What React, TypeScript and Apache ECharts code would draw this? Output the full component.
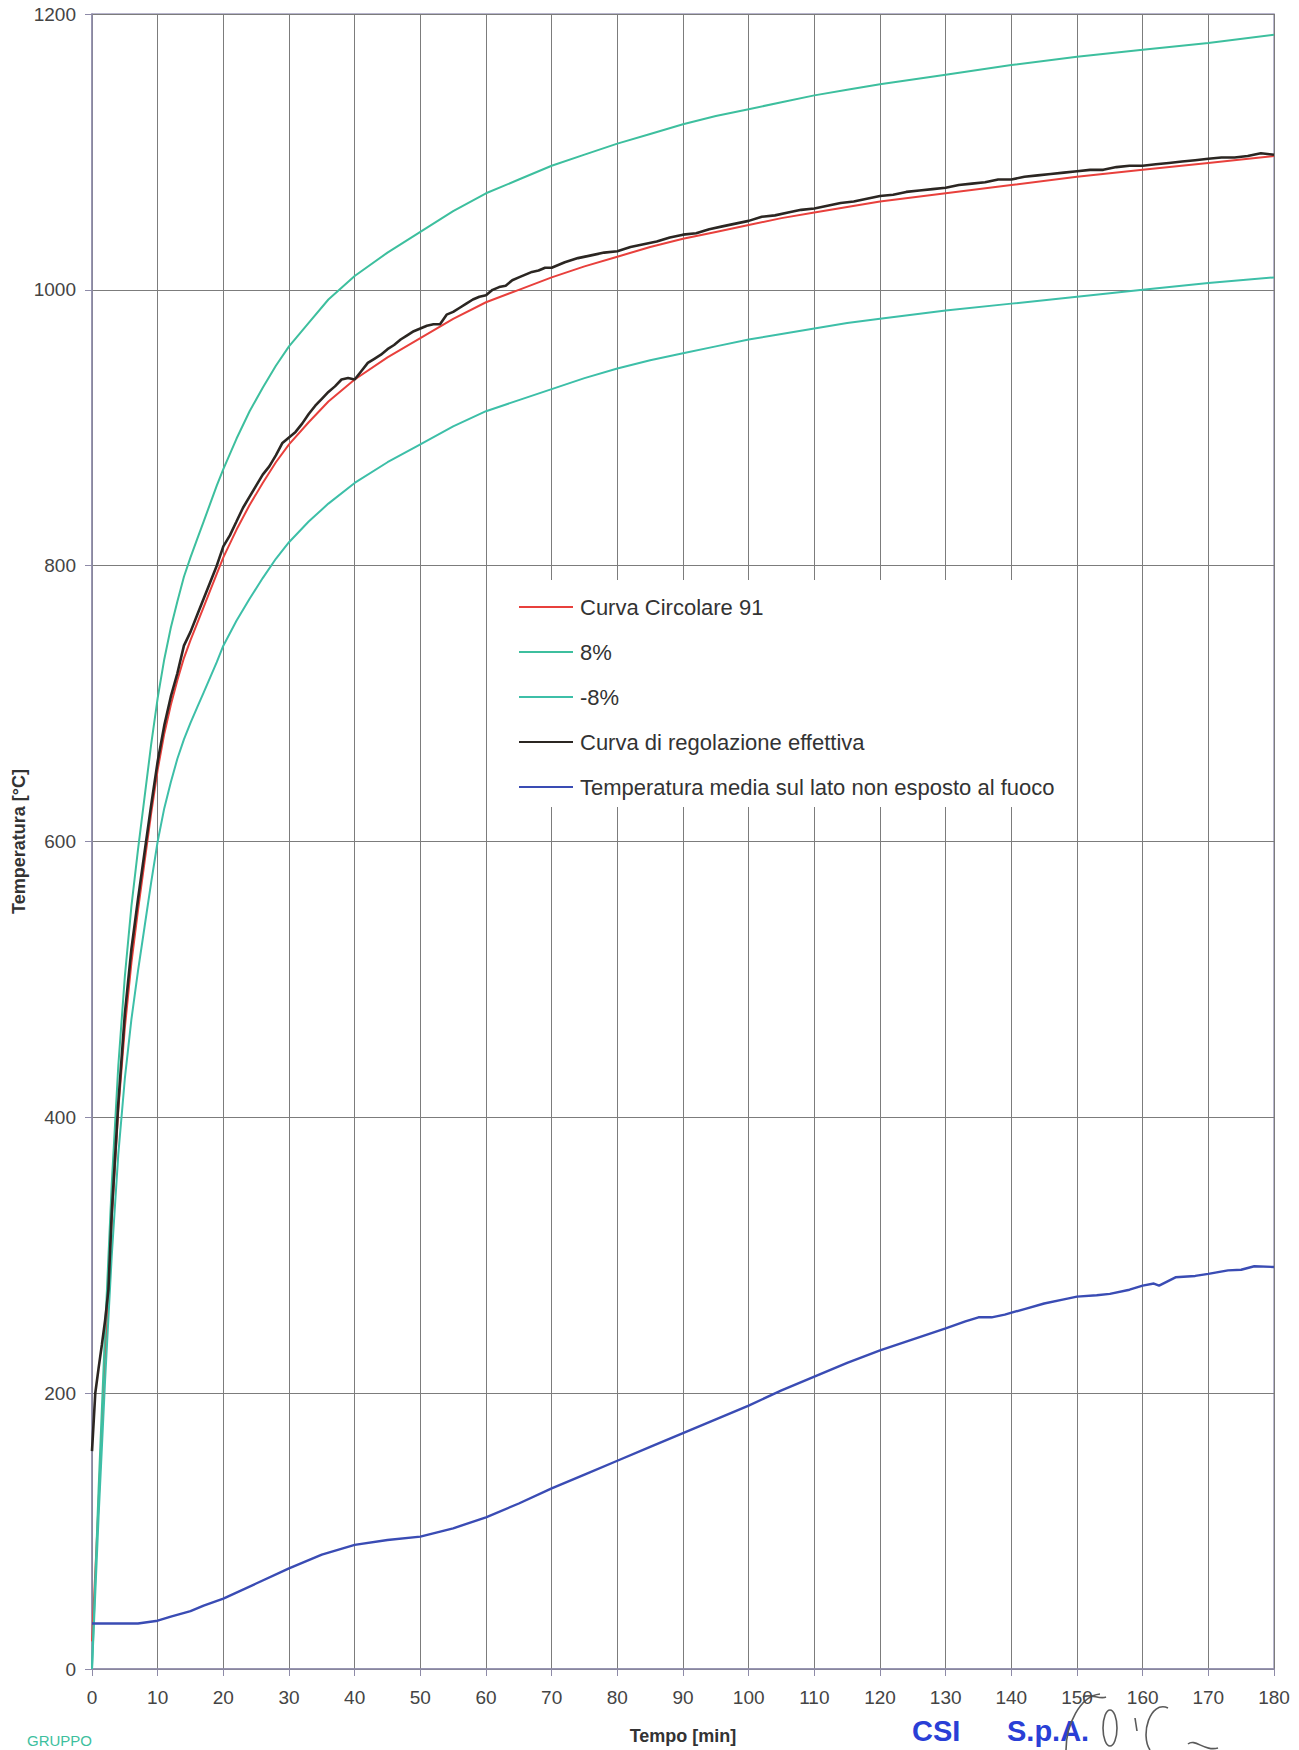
import React, { useEffect, useRef } from "react";
import * as echarts from "echarts";

// ---- data ----
const X_MIN = 0;
const X_MAX = 180;
const X_STEP = 10;
const Y_MIN = 0;
const Y_MAX = 1200;
const Y_STEP = 200;

const seriesNames = [
  "Curva Circolare 91",
  "8%",
  "-8%",
  "Curva di regolazione effettiva",
  "Temperatura media sul lato non esposto al fuoco",
];

// standard curve (red) and the +/-8% limits (teal), same time points
const curveT = [0, 1, 2, 3, 4, 5, 6, 7, 8, 9, 10, 11, 12, 13, 14, 15, 16, 17, 18, 19, 20, 22, 24, 26, 28, 30, 33, 36, 40, 45, 50, 55, 60, 65, 70, 75, 80, 85, 90, 95, 100, 105, 110, 115, 120, 130, 140, 150, 160, 170, 180];
const curveV = [20, 120, 228, 325, 405, 465, 512, 550, 585, 620, 652, 678, 699, 717, 733, 746, 758, 770, 782, 794, 806, 826, 844, 860, 875, 888, 904, 919, 935, 951, 965, 979, 991, 1000, 1009, 1017, 1024, 1031, 1037, 1042, 1047, 1052, 1056, 1060, 1064, 1070, 1076, 1082, 1087, 1092, 1097];
const upperV = [0, 130, 246, 351, 437, 502, 553, 594, 632, 670, 704, 732, 755, 774, 792, 806, 819, 832, 845, 858, 870, 892, 912, 929, 945, 959, 976, 993, 1010, 1027, 1042, 1057, 1070, 1080, 1090, 1098, 1106, 1113, 1120, 1126, 1131, 1136, 1141, 1145, 1149, 1156, 1163, 1169, 1174, 1179, 1185];
const lowerV = [0, 110, 210, 299, 373, 428, 471, 506, 538, 570, 600, 624, 643, 660, 674, 686, 697, 708, 719, 730, 742, 760, 776, 791, 805, 817, 832, 845, 860, 875, 888, 901, 912, 920, 928, 936, 943, 949, 954, 959, 964, 968, 972, 976, 979, 985, 990, 995, 1000, 1005, 1009];

// measured furnace curve (black)
const furnaceT = [0, 0.5, 1, 1.5, 2, 2.5, 3, 4, 5, 6, 7, 8, 9, 10, 11, 12, 13, 14, 15, 16, 17, 18, 19, 20, 21, 22, 23, 24, 25, 26, 27, 28, 29, 30, 31, 32, 33, 34, 35, 36, 37, 38, 39, 40, 41, 42, 43, 44, 45, 46, 47, 48, 49, 50, 51, 52, 53, 54, 55, 56, 57, 58, 59, 60, 61, 62, 63, 64, 65, 66, 67, 68, 69, 70, 72, 74, 76, 78, 80, 82, 84, 86, 88, 90, 92, 94, 96, 98, 100, 102, 104, 106, 108, 110, 112, 114, 116, 118, 120, 122, 124, 126, 128, 130, 132, 134, 136, 138, 140, 142, 144, 146, 148, 150, 152, 154, 156, 158, 160, 162, 164, 166, 168, 170, 172, 174, 176, 178, 180];
const furnaceV = [158, 200, 218, 235, 253, 275, 330, 410, 475, 522, 558, 592, 626, 658, 684, 705, 722, 742, 752, 764, 776, 788, 800, 814, 822, 832, 842, 850, 858, 866, 872, 880, 889, 893, 897, 903, 910, 916, 921, 926, 930, 935, 936, 935, 941, 947, 950, 953, 957, 960, 964, 967, 970, 972, 974, 975, 975, 982, 984, 987, 990, 993, 995, 996, 1000, 1002, 1003, 1007, 1009, 1011, 1013, 1014, 1016, 1016, 1020, 1023, 1025, 1027, 1028, 1031, 1033, 1035, 1038, 1040, 1041, 1044, 1046, 1048, 1050, 1053, 1054, 1056, 1058, 1059, 1061, 1063, 1064, 1066, 1068, 1069, 1071, 1072, 1073, 1074, 1076, 1077, 1078, 1080, 1080, 1082, 1083, 1084, 1085, 1086, 1087, 1087, 1089, 1090, 1090, 1091, 1092, 1093, 1094, 1095, 1096, 1096, 1097, 1099, 1098];

// mean temperature on the unexposed side (blue)
const unexposedT = [0, 5, 7, 10, 12, 15, 17, 20, 25, 30, 35, 40, 45, 50, 55, 60, 65, 70, 75, 80, 85, 90, 95, 100, 105, 110, 115, 120, 125, 130, 133, 135, 137, 139, 142, 145, 148, 150, 153, 155, 158, 160, 161.7, 162.5, 165, 168, 170, 173, 175, 177, 180];
const unexposedV = [33, 33, 33, 35, 38, 42, 46, 51, 62, 73, 83, 90, 93.5, 96, 102, 110, 120, 131, 141, 151, 161, 171, 181, 191, 202, 212, 222, 231, 239, 247, 252, 255, 255, 257, 261, 265, 268, 270, 271, 272, 275, 278, 279.5, 278, 284, 285, 286.5, 289, 289.5, 292, 291.5];

const pairs = (t: number[], v: number[]) => t.map((x, i) => [x, v[i]]);

const FONT = "'Liberation Sans', Arial, Helvetica, sans-serif";

export default function App() {
  const ref = useRef<HTMLDivElement>(null);

  useEffect(() => {
    if (!ref.current) return;
    const chart = echarts.init(ref.current, undefined, { renderer: "svg" });
    const colors = ["#e8403c", "#3dbf9e", "#3dbfa8", "#2b2622", "#3a4cb4"];
    const widths = [2, 2, 2, 2.6, 2.4];
    const datas = [
      pairs(curveT, curveV),
      pairs(curveT, upperV),
      pairs(curveT, lowerV),
      pairs(furnaceT, furnaceV),
      pairs(unexposedT, unexposedV),
    ];
    const sig = { stroke: "#5a5a5a", lineWidth: 1.6, fill: "none" };
    chart.setOption({
      animation: false,
      backgroundColor: "#ffffff",
      grid: {
        left: 92,
        top: 14,
        width: 1182,
        height: 1655,
        containLabel: false,
        outerBoundsMode: "none",
        show: true,
        borderColor: "#a19ebd",
        borderWidth: 1.5,
        backgroundColor: "transparent",
      },
      legend: {
        orient: "vertical",
        left: 508,
        top: 580,
        backgroundColor: "#ffffff",
        padding: [16, 13, 9, 11],
        itemWidth: 54,
        itemHeight: 20,
        itemGap: 23,
        icon: "path://M0,9 L54,9 L54,11 L0,11 Z",
        textStyle: {
          fontFamily: FONT,
          fontSize: 22,
          color: "#333333",
          lineHeight: 20,
          padding: [0, 0, 0, 2],
        },
        data: seriesNames.map((n, i) => ({ name: n, itemStyle: { color: colors[i] } })),
      },
      xAxis: {
        type: "value",
        min: X_MIN,
        max: X_MAX,
        interval: X_STEP,
        name: "Tempo [min]",
        nameLocation: "middle",
        nameGap: 58,
        nameMoveOverlap: false,
        nameTextStyle: { fontFamily: FONT, fontSize: 18, fontWeight: "bold", color: "#333" },
        axisLine: { show: true, lineStyle: { color: "#8e8ba8", width: 1.5 } },
        axisTick: { show: true, inside: false, length: 7, lineStyle: { color: "#8e8ba8" } },
        axisLabel: { fontFamily: FONT, fontSize: 19, color: "#444", margin: 19, formatter: (v: number) => String(v) },
        splitLine: { show: true, lineStyle: { color: "#7c7c7c", width: 1 } },
      },
      yAxis: {
        type: "value",
        min: Y_MIN,
        max: Y_MAX,
        interval: Y_STEP,
        name: "Temperatura [°C]",
        nameLocation: "middle",
        nameGap: 64,
        nameMoveOverlap: false,
        nameRotate: 90,
        nameTextStyle: { fontFamily: FONT, fontSize: 18, fontWeight: "bold", color: "#333" },
        axisLine: { show: true, lineStyle: { color: "#8e8ba8", width: 1.5 } },
        axisTick: { show: true, inside: false, length: 7, lineStyle: { color: "#8e8ba8" } },
        axisLabel: { fontFamily: FONT, fontSize: 19, color: "#444", margin: 16, formatter: (v: number) => String(v) },
        splitLine: { show: true, lineStyle: { color: "#7c7c7c", width: 1 } },
      },
      series: seriesNames.map((n, i) => ({
        name: n,
        type: "line",
        data: datas[i],
        symbol: "none",
        smooth: false,
        lineStyle: { color: colors[i], width: widths[i] },
        itemStyle: { color: colors[i] },
        z: 2 + i,
      })),
      graphic: [
        {
          type: "text",
          left: 27,
          top: 1733,
          style: { text: "GRUPPO", fill: "#3dbf9e", font: "15px 'Liberation Sans', Arial, sans-serif" },
        },
        {
          type: "text",
          left: 912,
          top: 1716,
          style: { text: "CSI", fill: "#2a3fd6", font: "bold 29px 'Liberation Sans', Arial, sans-serif" },
        },
        {
          type: "text",
          left: 1007,
          top: 1716,
          style: { text: "S.p.A.", fill: "#2a3fd6", font: "bold 29px 'Liberation Sans', Arial, sans-serif" },
        },
        // handwritten signature strokes
        {
          type: "bezierCurve",
          shape: { x1: 1100, y1: 1694, x2: 1066, y2: 1750, cpx1: 1080, cpy1: 1696, cpx2: 1066, cpy2: 1725 },
          style: sig,
        },
        {
          type: "bezierCurve",
          shape: { x1: 1083, y1: 1697, x2: 1106, y2: 1697, cpx1: 1090, cpy1: 1693, cpx2: 1100, cpy2: 1700 },
          style: sig,
        },
        {
          type: "ellipse",
          shape: { cx: 1110, cy: 1728, rx: 7, ry: 18 },
          style: sig,
        },
        {
          type: "line",
          shape: { x1: 1135, y1: 1718, x2: 1137, y2: 1731 },
          style: sig,
        },
        {
          type: "bezierCurve",
          shape: { x1: 1168, y1: 1708, x2: 1150, y2: 1750, cpx1: 1150, cpy1: 1700, cpx2: 1140, cpy2: 1735 },
          style: sig,
        },
        {
          type: "bezierCurve",
          shape: { x1: 1188, y1: 1744, x2: 1218, y2: 1748, cpx1: 1195, cpy1: 1738, cpx2: 1205, cpy2: 1752 },
          style: sig,
        },
      ],
    });
    return () => chart.dispose();
  }, []);

  return (
    <div
      ref={ref}
      style={{ position: "absolute", left: 0, top: 0, width: 1299, height: 1750, background: "#fff" }}
    />
  );
}
